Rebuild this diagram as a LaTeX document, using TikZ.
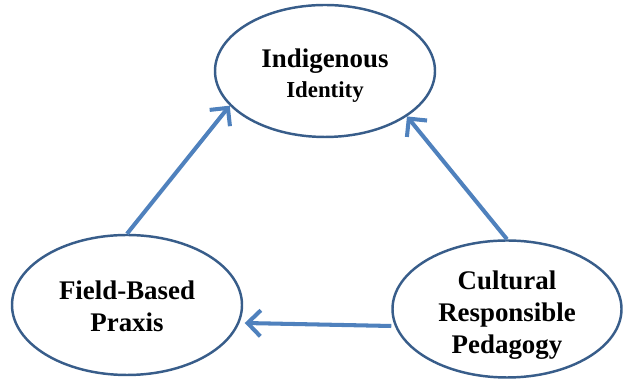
\documentclass[tikz,border=0pt]{standalone}
\usepackage{fontspec}
\setmainfont{Liberation Serif}
\usepackage{tikz}
\usetikzlibrary{arrows.meta, shapes.geometric, calc}

\definecolor{rimBlue}{HTML}{385D8A}
\definecolor{flowBlue}{HTML}{4F81BD}

\begin{document}
\begin{tikzpicture}[
    idea/.style={ellipse, draw=rimBlue, line width=1.4pt, fill=white, inner sep=0pt},
    words/.style={align=center, font=\bfseries\fontsize{15.3}{18.2}\selectfont, inner sep=0pt},
    flow/.style={draw=flowBlue, line width=2.3pt,
        -{Straight Barb[length=2.6mm, width=5.2mm]}}
]

%%Paramaters
%% ellipse row, can be modified
\def\lowRow{ 1.5 }

\def\topRow{ 6.24 }

    \useasboundingbox (0,0) rectangle (12.5,7.66);

    %% ***Top : Indigenous Identity***
    \node[idea, minimum width=4.4cm, minimum height=2.64cm] (idt) at (6.5, \topRow) {};
    \node[words] (idtText) at ($(idt)+(0,-0.09)$)
        {Indigenous\\[-1pt]{\fontsize{13}{15}\selectfont Identity}};

    %% ***Left : Field-Based Praxis***
    \node[idea, minimum width=4.6cm, minimum height=2.8cm] (fbp) at (2.54, \lowRow+0.06) {};
    \node[words] (fbpText) at ($(fbp)+(0,-0.02)$) {Field-Based\\Praxis};

    %% ***Right : Cultural Responsible Pedagogy***
    \node[idea, minimum width=4.58cm, minimum height=2.74cm] (crp) at (10.14, \lowRow-0.02) {};
    \node[words] (crpText) at ($(crp)+(0,-0.12)$) {Cultural\\Responsible\\Pedagogy};

    %% arrows between the three
    \draw[flow] (fbp.north) -- (idt.200);
    \draw[flow] (crp.north) -- (idt.331);
    \draw[flow] ([yshift=-0.34cm]crp.west) -- ($(fbp.east)+(0.03,-0.36)$);

\end{tikzpicture}
\end{document}
